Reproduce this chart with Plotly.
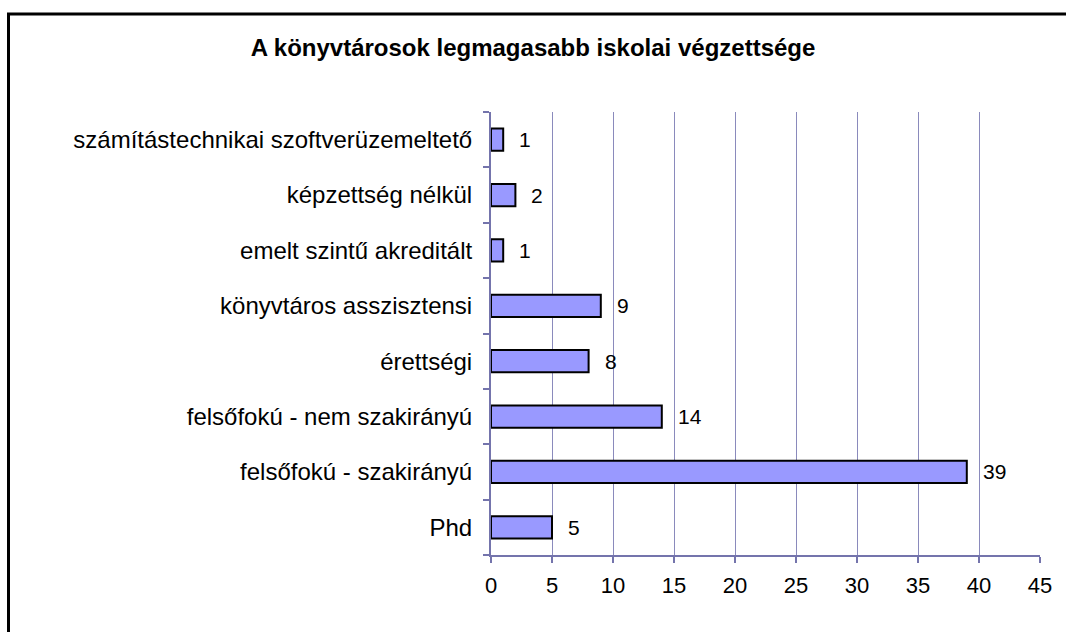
import plotly.graph_objects as go

categories = [
    "Phd",
    "felsőfokú - szakirányú",
    "felsőfokú - nem szakirányú",
    "érettségi",
    "könyvtáros asszisztensi",
    "emelt szintű akreditált",
    "képzettség nélkül",
    "számítástechnikai szoftverüzemeltető",
]
values = [5, 39, 14, 8, 9, 1, 2, 1]
title_text = "A könyvtárosok legmagasabb iskolai végzettsége"

FONT = "Liberation Sans, Arial, sans-serif"
AXIS_COLOR = "#7474AC"
GRID_COLOR = "#8A8ABC"

W, H = 1066, 632
L, R, T, B = 491, 26, 112, 77
pw, ph = W - L - R, H - T - B

def px_x(p):
    return (p - L) / pw

def px_y(p):
    return (H - B - p) / ph

fig = go.Figure()
fig.add_trace(go.Bar(
    x=values, y=categories, orientation="h",
    marker=dict(color="#9999FF", line=dict(color="black", width=2)),
    width=0.4,
    hoverinfo="skip",
))

for c, v in zip(categories, values):
    fig.add_annotation(x=v, y=c, text=str(v), showarrow=False,
                       xanchor="left", yanchor="middle", xshift=14,
                       font=dict(family=FONT, size=21, color="black"))

fig.add_shape(type="rect", xref="paper", yref="paper",
              x0=px_x(8.5), x1=px_x(1075), y0=px_y(640), y1=px_y(14),
              line=dict(color="black", width=3), fillcolor="rgba(0,0,0,0)",
              layer="below")

fig.update_layout(
    width=W, height=H,
    margin=dict(l=L, r=R, t=T, b=B, pad=0),
    paper_bgcolor="white", plot_bgcolor="white",
    showlegend=False,
    bargap=0.6,
    title=dict(text="<b>" + title_text + "</b>", x=0.5, xref="container",
               xanchor="center", y=1 - 48 / H, yanchor="middle",
               font=dict(family=FONT, size=24, color="black")),
    font=dict(family=FONT, color="black"),
)
fig.update_xaxes(
    range=[0, 45], dtick=5, tick0=0,
    showgrid=True, gridcolor=GRID_COLOR, gridwidth=1,
    showline=True, linecolor=AXIS_COLOR, linewidth=2,
    ticks="outside", ticklen=6, tickcolor=AXIS_COLOR, tickwidth=2,
    tickfont=dict(family=FONT, size=22, color="black"),
    ticklabelstandoff=4,
    zeroline=False, fixedrange=True,
)
fig.update_yaxes(
    type="category", categoryorder="array", categoryarray=categories,
    showgrid=False,
    showline=True, linecolor=AXIS_COLOR, linewidth=2,
    ticks="outside", ticklen=6, tickcolor=AXIS_COLOR, tickwidth=2,
    tickson="boundaries",
    tickfont=dict(family=FONT, size=24, color="black"),
    ticklabelstandoff=12,
    zeroline=False, fixedrange=True,
)

fig.write_html("out.html", config={"displayModeBar": False})
